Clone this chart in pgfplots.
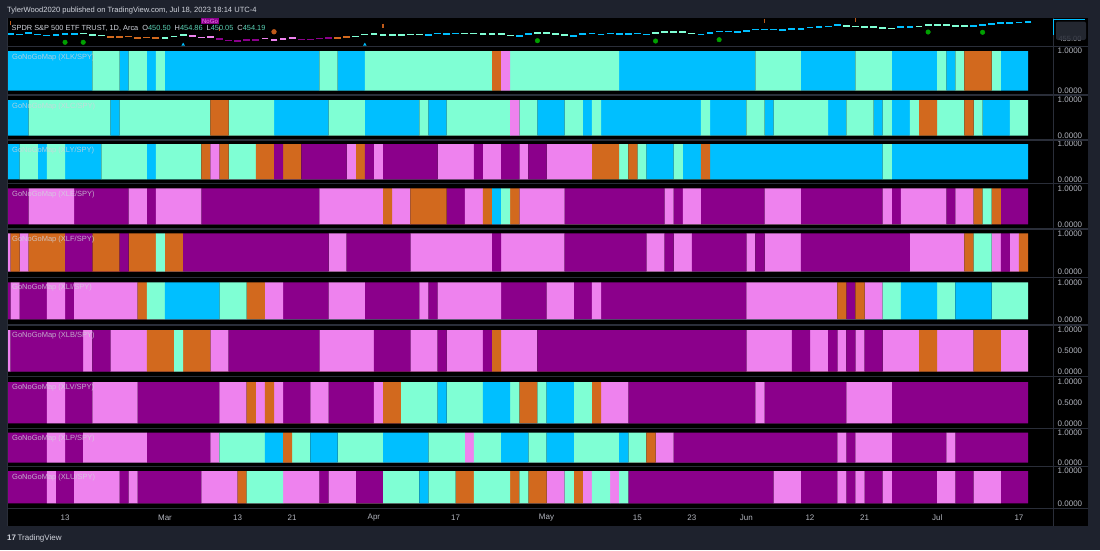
\documentclass[border=0pt]{standalone}
\usepackage{pgfplots}
\pgfplotsset{compat=1.18}
\usepackage{fontspec}
\setmainfont{Liberation Sans}
\definecolor{gB}{HTML}{00BFFF}
\definecolor{gA}{HTML}{7FFFD4}
\definecolor{gP}{HTML}{EE82EE}
\definecolor{gD}{HTML}{8B008B}
\definecolor{gO}{HTML}{D2691E}
\definecolor{frame}{HTML}{1E222D}
\definecolor{sep}{HTML}{2A2E39}
\definecolor{lbl}{HTML}{B2B5BE}
\definecolor{txt}{HTML}{D1D4DC}
\definecolor{num}{HTML}{5AD1B5}
\definecolor{dot}{HTML}{00A000}
\definecolor{mk}{HTML}{C05A1A}
\newcommand{\runs}[2]{\addplot[const plot, fill=#1, draw=none, mark=none] coordinates {#2} \closedcycle;}
\pgfplotsset{
  panel/.style={
    scale only axis, width=1045.7pt, anchor=south west,
    xmin=-6.357, xmax=108.75, ymin=0, ymax=1,
    axis line style={draw=none}, tick style={draw=none}, major tick length=0pt,
    xtick=\empty, ytick={0,1},
    yticklabel pos=right,
    yticklabel style={anchor=west, xshift=4.5pt, inner sep=0pt, font=\fontsize{8}{9}\selectfont, text=lbl},
    /pgf/number format/fixed, /pgf/number format/fixed zerofill, /pgf/number format/precision=4,
    /pgf/number format/assume math mode=true,
  },
  dash mark/.style={only marks, mark=-, mark size=3.4pt, line width=1.6pt, mark options={line width=1.6pt}},
}
\tikzset{pane label/.style={anchor=west, font=\fontsize{7.5}{8}\selectfont, text=txt, text opacity=0.8, inner sep=0pt}}
\begin{document}
\begin{tikzpicture}
\begin{scope}[x=1pt,y=-1pt]
  \fill[frame] (0,0) rectangle (1100,550);
  \fill[black] (7,18.3) rectangle (1088,525.7);
\end{scope}

% price pane
\begin{axis}[scale only axis, width=1045.7pt, height=28.4pt, at={(7.3pt,-46.7pt)}, anchor=south west,
  xmin=-6.357, xmax=108.75, ymin=368.0, ymax=465.9, hide axis, clip=false]
\addplot[dash mark, gB] coordinates {(-6,412.4)(-5,409.8)(-4,415.2)(-3,410.7)(-2,407.1)(-1,408.0)(0,412.8)(1,412.6)(40,408.1)(41,413.5)(42,412.5)(43,413.9)(50,404.4)(51,412.4)(56,405.1)(57,412.6)(58,412.9)(59,410.7)(60,412.9)(61,412.3)(62,411.6)(63,413.0)(64,410.2)(70,410.7)(71,414.7)(72,420.0)(73,420.2)(74,417.9)(75,421.8)(76,427.9)(77,427.1)(78,428.0)(79,426.6)(80,429.1)(81,429.9)(82,433.8)(83,436.7)(84,437.2)(85,442.6)(92,436.2)(93,436.4)(100,439.7)(101,442.5)(102,446.0)(103,449.6)(104,449.3)(105,450.8)(106,454.2)};
\addplot[dash mark, gA] coordinates {(2,414.0)(3,408.3)(4,407.3)(11,398.7)(12,403.8)(13,408.2)(32,403.7)(33,409.4)(34,411.0)(35,408.7)(36,407.6)(37,409.2)(38,409.6)(39,409.7)(44,414.2)(45,414.1)(46,411.9)(47,412.2)(48,412.6)(49,406.1)(52,415.9)(53,415.5)(54,410.8)(55,408.0)(65,415.2)(66,418.6)(67,418.0)(68,418.2)(69,413.7)(86,439.5)(87,437.2)(88,434.9)(89,436.5)(90,433.2)(91,431.4)(94,438.1)(95,443.3)(96,443.8)(97,443.1)(98,439.7)(99,438.6)};
\addplot[dash mark, gO] coordinates {(5,401.1)(6,400.5)(7,402.7)(8,398.4)(9,399.7)(10,398.3)(30,398.5)(31,402.4)};
\addplot[dash mark, gP] coordinates {(14,404.5)(15,400.3)(16,400.9)(22,396.1)(23,392.0)(24,394.7)(25,398.9)};
\addplot[dash mark, gD] coordinates {(17,393.6)(18,388.9)(19,388.4)(20,391.7)(21,390.3)(26,393.1)(27,393.2)(28,395.8)(29,397.2)};
\addplot[only marks, mark=*, mark size=2.3pt, dot] coordinates {(0,383.2)(2,383.2)(52,388.7)(65,387.6)(72,392.1)(95,418.7)(101,417.7)};
\addplot[only marks, mark=*, mark size=2.4pt, mk] coordinates {(23,419.5)};
\addplot[only marks, mark=|, mark size=2pt, mk, line width=1.1pt, mark options={line width=1.1pt}] coordinates {(-6,448.7)(17,429.0)(35,440.4)(77,457.6)(87,460.0)};
\addplot[only marks, mark=triangle*, mark size=1.6pt, gB] coordinates {(13,375.0)(33,375.0)};
\end{axis}

% 1 XLK
\begin{axis}[panel, at={(7.3pt,-90.7pt)}, height=39.7pt]
\runs{gB}{(-7,1)(3,0)(6,1)(7,0)(9,1)(10,0)(11,1)(28,0)(30,1)(33,0)(61,1)(76,0)(81,1)(87,0)(91,1)(96,0)(97,1)(98,0)(103,1)(106,0)}
\runs{gA}{(3,1)(6,0)(7,1)(9,0)(10,1)(11,0)(28,1)(30,0)(33,1)(47,0)(49,1)(61,0)(76,1)(81,0)(87,1)(91,0)(96,1)(97,0)(98,1)(99,0)(102,1)(103,0)}
\runs{gO}{(47,1)(48,0)(99,1)(102,0)}
\runs{gP}{(48,1)(49,0)}
\end{axis}

% 2 XLC
\begin{axis}[panel, at={(7.3pt,-135.7pt)}, height=35.7pt]
\runs{gB}{(-7,1)(-4,0)(5,1)(6,0)(23,1)(29,0)(33,1)(39,0)(40,1)(42,0)(52,1)(55,0)(57,1)(58,0)(59,1)(70,0)(71,1)(75,0)(77,1)(78,0)(84,1)(86,0)(89,1)(90,0)(91,1)(93,0)(101,1)(104,0)}
\runs{gA}{(-4,1)(5,0)(6,1)(16,0)(18,1)(23,0)(29,1)(33,0)(39,1)(40,0)(42,1)(49,0)(50,1)(52,0)(55,1)(57,0)(58,1)(59,0)(70,1)(71,0)(75,1)(77,0)(78,1)(84,0)(86,1)(89,0)(90,1)(91,0)(93,1)(94,0)(96,1)(99,0)(100,1)(101,0)(104,1)(106,0)}
\runs{gO}{(16,1)(18,0)(94,1)(96,0)(99,1)(100,0)}
\runs{gP}{(49,1)(50,0)}
\end{axis}

% 3 XLY
\begin{axis}[panel, at={(7.3pt,-179.3pt)}, height=35.3pt]
\runs{gB}{(-7,1)(-5,0)(-3,1)(-2,0)(0,1)(4,0)(9,1)(10,0)(64,1)(67,0)(68,1)(70,0)(71,1)(90,0)(91,1)(106,0)}
\runs{gA}{(-5,1)(-3,0)(-2,1)(0,0)(4,1)(9,0)(10,1)(15,0)(18,1)(21,0)(61,1)(62,0)(63,1)(64,0)(67,1)(68,0)(90,1)(91,0)}
\runs{gO}{(15,1)(16,0)(17,1)(18,0)(21,1)(23,0)(24,1)(26,0)(32,1)(33,0)(58,1)(61,0)(62,1)(63,0)(70,1)(71,0)}
\runs{gP}{(16,1)(17,0)(31,1)(32,0)(34,1)(35,0)(41,1)(45,0)(46,1)(48,0)(50,1)(51,0)(53,1)(58,0)}
\runs{gD}{(23,1)(24,0)(26,1)(31,0)(33,1)(34,0)(35,1)(41,0)(45,1)(46,0)(48,1)(50,0)(51,1)(53,0)}
\end{axis}

% 4 XLE
\begin{axis}[panel, at={(7.3pt,-224.3pt)}, height=36pt]
\runs{gD}{(-7,1)(-4,0)(1,1)(7,0)(9,1)(10,0)(15,1)(28,0)(42,1)(44,0)(55,1)(66,0)(67,1)(68,0)(70,1)(77,0)(81,1)(90,0)(91,1)(92,0)(97,1)(98,0)(103,1)(106,0)}
\runs{gP}{(-4,1)(1,0)(7,1)(9,0)(10,1)(15,0)(28,1)(35,0)(36,1)(38,0)(44,1)(46,0)(50,1)(55,0)(66,1)(67,0)(68,1)(70,0)(77,1)(81,0)(90,1)(91,0)(92,1)(97,0)(98,1)(100,0)}
\runs{gO}{(35,1)(36,0)(38,1)(42,0)(46,1)(47,0)(49,1)(50,0)(100,1)(101,0)(102,1)(103,0)}
\runs{gB}{(47,1)(48,0)}
\runs{gA}{(48,1)(49,0)(101,1)(102,0)}
\end{axis}

% 5 XLF
\begin{axis}[panel, at={(7.3pt,-271.7pt)}, height=38.4pt]
\runs{gP}{(-7,1)(-6,0)(-5,1)(-4,0)(29,1)(31,0)(38,1)(47,0)(48,1)(55,0)(64,1)(66,0)(67,1)(69,0)(75,1)(76,0)(77,1)(81,0)(93,1)(99,0)(102,1)(103,0)(104,1)(105,0)}
\runs{gO}{(-6,1)(-5,0)(-4,1)(0,0)(3,1)(6,0)(7,1)(10,0)(11,1)(13,0)(99,1)(100,0)(105,1)(106,0)}
\runs{gD}{(0,1)(3,0)(6,1)(7,0)(13,1)(29,0)(31,1)(38,0)(47,1)(48,0)(55,1)(64,0)(66,1)(67,0)(69,1)(75,0)(76,1)(77,0)(81,1)(93,0)(103,1)(104,0)}
\runs{gA}{(10,1)(11,0)(100,1)(102,0)}
\end{axis}

% 6 XLI
\begin{axis}[panel, at={(7.3pt,-319.3pt)}, height=37pt]
\runs{gD}{(-7,1)(-6,0)(-5,1)(-2,0)(0,1)(1,0)(24,1)(29,0)(33,1)(39,0)(40,1)(41,0)(48,1)(53,0)(56,1)(58,0)(59,1)(75,0)(86,1)(87,0)}
\runs{gP}{(-6,1)(-5,0)(-2,1)(0,0)(1,1)(8,0)(22,1)(24,0)(29,1)(33,0)(39,1)(40,0)(41,1)(48,0)(53,1)(56,0)(58,1)(59,0)(75,1)(85,0)(88,1)(90,0)}
\runs{gO}{(8,1)(9,0)(20,1)(22,0)(85,1)(86,0)(87,1)(88,0)}
\runs{gA}{(9,1)(11,0)(17,1)(20,0)(90,1)(92,0)(96,1)(98,0)(102,1)(106,0)}
\runs{gB}{(11,1)(17,0)(92,1)(96,0)(98,1)(102,0)}
\end{axis}

% 7 XLB
\begin{axis}[panel, at={(7.3pt,-371.7pt)}, height=41.7pt, ytick={0,0.5,1}]
\runs{gP}{(-7,1)(-6,0)(2,1)(3,0)(5,1)(9,0)(16,1)(18,0)(28,1)(34,0)(38,1)(41,0)(42,1)(46,0)(48,1)(52,0)(75,1)(80,0)(82,1)(84,0)(85,1)(86,0)(87,1)(88,0)(90,1)(94,0)(96,1)(100,0)(103,1)(106,0)}
\runs{gD}{(-6,1)(2,0)(3,1)(5,0)(18,1)(28,0)(34,1)(38,0)(41,1)(42,0)(46,1)(47,0)(52,1)(75,0)(80,1)(82,0)(84,1)(85,0)(86,1)(87,0)(88,1)(90,0)}
\runs{gO}{(9,1)(12,0)(13,1)(16,0)(47,1)(48,0)(94,1)(96,0)(100,1)(103,0)}
\runs{gA}{(12,1)(13,0)}
\end{axis}

% 8 XLV
\begin{axis}[panel, at={(7.3pt,-423.3pt)}, height=41.3pt, ytick={0,0.5,1}]
\runs{gD}{(-7,1)(-2,0)(0,1)(3,0)(8,1)(17,0)(24,1)(27,0)(29,1)(34,0)(62,1)(76,0)(77,1)(86,0)(91,1)(106,0)}
\runs{gP}{(-2,1)(0,0)(3,1)(8,0)(17,1)(20,0)(21,1)(22,0)(23,1)(24,0)(27,1)(29,0)(34,1)(35,0)(59,1)(62,0)(76,1)(77,0)(86,1)(91,0)}
\runs{gO}{(20,1)(21,0)(22,1)(23,0)(35,1)(37,0)(50,1)(52,0)(58,1)(59,0)}
\runs{gA}{(37,1)(41,0)(42,1)(46,0)(49,1)(50,0)(52,1)(53,0)(56,1)(58,0)}
\runs{gB}{(41,1)(42,0)(46,1)(49,0)(53,1)(56,0)}
\end{axis}

% 9 XLP
\begin{axis}[panel, at={(7.3pt,-462.7pt)}, height=30pt]
\runs{gD}{(-7,1)(-2,0)(0,1)(2,0)(9,1)(16,0)(67,1)(85,0)(86,1)(87,0)(91,1)(97,0)(98,1)(106,0)}
\runs{gP}{(-2,1)(0,0)(2,1)(9,0)(16,1)(17,0)(44,1)(45,0)(65,1)(67,0)(85,1)(86,0)(87,1)(91,0)(97,1)(98,0)}
\runs{gA}{(17,1)(22,0)(25,1)(27,0)(30,1)(35,0)(40,1)(44,0)(45,1)(48,0)(51,1)(53,0)(56,1)(61,0)(62,1)(64,0)}
\runs{gB}{(22,1)(24,0)(27,1)(30,0)(35,1)(40,0)(48,1)(51,0)(53,1)(56,0)(61,1)(62,0)}
\runs{gO}{(24,1)(25,0)(64,1)(65,0)}
\end{axis}

% 10 XLU
\begin{axis}[panel, at={(7.3pt,-503.3pt)}, height=32.3pt,
  xtick={0,11,19,25,34,43,53,63,69,75,82,88,96,105},
  xticklabels={13,Mar,13,21,Apr,17,May,15,23,Jun,12,21,Jul,17},
  xticklabel style={anchor=center, yshift=-14pt, font=\fontsize{8}{9}\selectfont, text=lbl}]
\runs{gD}{(-7,1)(-2,0)(-1,1)(1,0)(6,1)(7,0)(8,1)(15,0)(28,1)(29,0)(32,1)(35,0)(62,1)(78,0)(81,1)(85,0)(86,1)(87,0)(88,1)(90,0)(91,1)(96,0)(98,1)(100,0)(103,1)(106,0)}
\runs{gP}{(-2,1)(-1,0)(1,1)(6,0)(7,1)(8,0)(15,1)(19,0)(24,1)(28,0)(29,1)(32,0)(53,1)(55,0)(57,1)(58,0)(60,1)(61,0)(78,1)(81,0)(85,1)(86,0)(87,1)(88,0)(90,1)(91,0)(96,1)(98,0)(100,1)(103,0)}
\runs{gO}{(19,1)(20,0)(43,1)(45,0)(49,1)(50,0)(51,1)(53,0)(56,1)(57,0)}
\runs{gA}{(20,1)(24,0)(35,1)(39,0)(40,1)(43,0)(45,1)(49,0)(50,1)(51,0)(55,1)(56,0)(58,1)(60,0)(61,1)(62,0)}
\runs{gB}{(39,1)(40,0)}
\end{axis}

\begin{scope}[x=1pt,y=-1pt]
  \foreach \yy in {46.7,95,140,183.3,229,277.3,325,376.7,428.3,466.7,508.3}
    \draw[sep, line width=1.2pt] (7,\yy) -- (1088,\yy);
  \draw[sep, line width=1pt] (1053,18.3) -- (1053,525.7);
  \draw[sep, line width=0.8pt] (7.4,18.3) -- (7.4,525.7);
  % header
  \node[anchor=west, inner sep=0pt, text=txt, font=\fontsize{7.6}{9}\selectfont] at (7,10.8) {TylerWood2020 published on TradingView.com, Jul 18, 2023 18:14 UTC-4};
  \node[anchor=west, inner sep=0pt, text=txt, font=\fontsize{7.4}{9}\selectfont] at (11.5,28.2) {SPDR S\&P 500 ETF TRUST, 1D, Arca\hspace{4pt}O\textcolor{num}{450.50}\hspace{4pt}H\textcolor{num}{454.86}\hspace{4pt}L\textcolor{num}{450.05}\hspace{4pt}C\textcolor{num}{454.19}};
  \node[fill=gD, text=gP, inner sep=0.8pt, font=\fontsize{6}{7}\selectfont] at (210,21) {NoGo};
  % right price label
  \node[text=lbl, font=\fontsize{7.5}{8}\selectfont] at (1070,38.5) {455.00};
  \fill[sep, opacity=0.85, rounded corners=2pt] (1056,21.5) rectangle (1086,40);
  \draw[gB, line width=1.2pt] (1053.5,35) -- (1053.5,19.5) -- (1085,19.5);
  % pane labels
  \node[pane label] at (12,57.3) {GoNoGoMap (XLK/SPY)};
  \node[pane label] at (12,106.3) {GoNoGoMap (XLC/SPY)};
  \node[pane label] at (12,150.3) {GoNoGoMap (XLY/SPY)};
  \node[pane label] at (12,194.3) {GoNoGoMap (XLE/SPY)};
  \node[pane label] at (12,239.3) {GoNoGoMap (XLF/SPY)};
  \node[pane label] at (12,287.6) {GoNoGoMap (XLI/SPY)};
  \node[pane label] at (12,335.5) {GoNoGoMap (XLB/SPY)};
  \node[pane label] at (12,387.6) {GoNoGoMap (XLV/SPY)};
  \node[pane label] at (12,439) {GoNoGoMap (XLP/SPY)};
  \node[pane label] at (12,477.3) {GoNoGoMap (XLU/SPY)};
  % footer
  \node[anchor=west, inner sep=0pt, text=txt, font=\fontsize{8}{9}\selectfont] at (7,538) {\textbf{17}\hspace{1.5pt}TradingView};
\end{scope}
\end{tikzpicture}
\end{document}
